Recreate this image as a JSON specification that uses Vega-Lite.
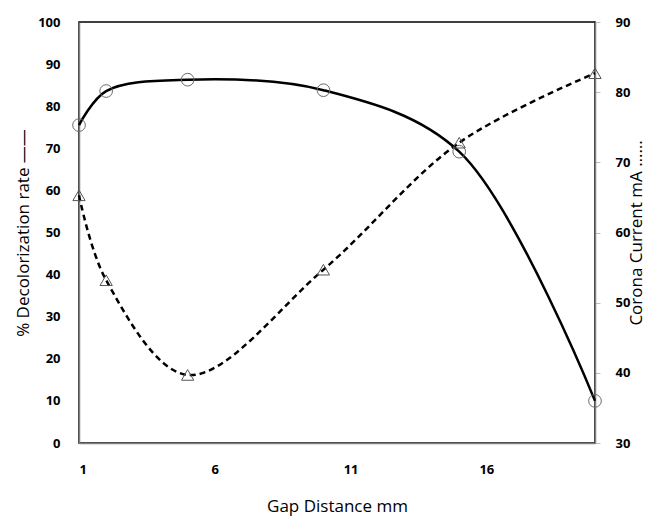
{
  "$schema": "https://vega.github.io/schema/vega-lite/v6.json",
  "width": 516,
  "height": 421,
  "autosize": {"type": "none"},
  "padding": {"left": 79, "top": 22, "right": 55, "bottom": 73},
  "config": {
    "view": {"stroke": "#000000", "strokeWidth": 1.5},
    "font": "Open Sans",
    "axis": {"grid": false, "domainColor": "#808080", "domainWidth": 1.5, "labelFontSize": 13, "labelFontWeight": "bold", "labelColor": "#000000", "titleFontSize": 17, "titleFontWeight": "normal", "titleColor": "#000000"}
  },
  "data": {
    "values": [
      {"gap": 1, "decol": 75.5, "current": 65.3},
      {"gap": 2, "decol": 83.6, "current": 53.2},
      {"gap": 5, "decol": 86.3, "current": 39.7},
      {"gap": 10, "decol": 83.8, "current": 54.7},
      {"gap": 15, "decol": 69.2, "current": 72.8},
      {"gap": 20, "decol": 10.0, "current": 82.7}
    ]
  },
  "encoding": {
    "x": {
      "field": "gap", "type": "quantitative",
      "scale": {"domain": [1, 20], "nice": false, "zero": false},
      "axis": {"values": [1, 6, 11, 16], "ticks": false, "labelPadding": 20, "title": "Gap Distance  mm", "titlePadding": 22}
    }
  },
  "layer": [
    {
      "encoding": {
        "y": {
          "field": "decol", "type": "quantitative",
          "scale": {"domain": [0, 100], "nice": false},
          "axis": {"orient": "left", "values": [0, 10, 20, 30, 40, 50, 60, 70, 80, 90, 100], "ticks": false, "labelPadding": 19, "title": "% Decolorization rate ——", "titlePadding": 5}
        }
      },
      "layer": [
        {"mark": {"type": "line", "interpolate": "catmull-rom", "color": "#000000", "strokeWidth": 2.5}},
        {"mark": {"type": "point", "shape": "circle", "size": 160, "filled": false, "stroke": "#6a6a6a", "strokeWidth": 1, "opacity": 1}}
      ]
    },
    {
      "encoding": {
        "y": {
          "field": "current", "type": "quantitative",
          "scale": {"domain": [30, 90], "nice": false, "zero": false},
          "axis": {"orient": "right", "values": [30, 40, 50, 60, 70, 80, 90], "ticks": true, "tickSize": 5, "tickColor": "#c0c0c0", "labelPadding": 15, "title": "Corona Current mA ……", "titleAngle": -90, "titleBaseline": "bottom", "titlePadding": 16}
        }
      },
      "layer": [
        {"mark": {"type": "line", "interpolate": "catmull-rom", "color": "#000000", "strokeWidth": 2.5, "strokeDash": [6, 4]}},
        {"mark": {"type": "point", "shape": "triangle-up", "size": 150, "filled": false, "stroke": "#555555", "strokeWidth": 1, "opacity": 1}}
      ]
    }
  ],
  "resolve": {"scale": {"y": "independent"}}
}
